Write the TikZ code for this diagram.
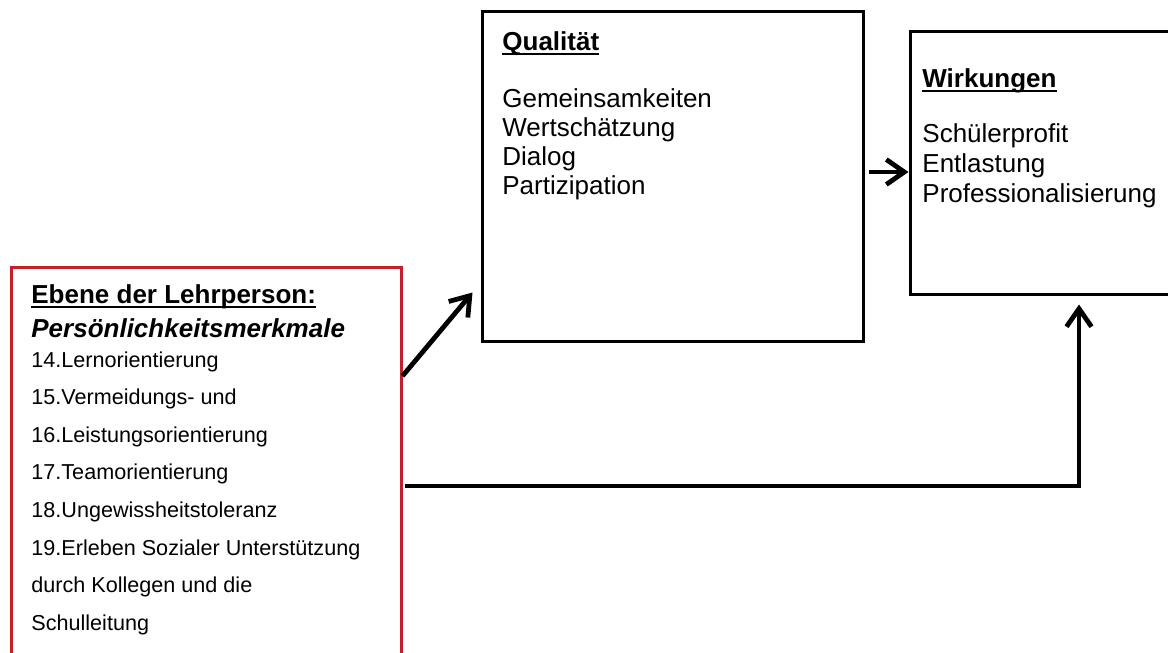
\documentclass[tikz,border=0pt]{standalone}
\usepackage{fontspec}
\setmainfont{Liberation Sans}
\usetikzlibrary{arrows.meta}
\definecolor{rahmenrot}{RGB}{196,32,44}
% Unterstreichung mit fester Tiefe (wie im Textprogramm)
\newcommand\ulhead[1]{\setbox0\hbox{#1}\rlap{\rule[-2.3pt]{\wd0}{0.8pt}}\box0}
\begin{document}
\begin{tikzpicture}[x=0.5pt,y=-0.5pt,
	kasten/.style={draw,line width=1.5pt,inner sep=0pt},
	pfeil/.style={line width=2.4pt,-{Straight Barb[length=9pt,width=12.5pt]}},
	gross/.style={anchor=base west,inner sep=0pt,font=\fontsize{13}{15}\selectfont},
	klein/.style={anchor=base west,inner sep=0pt,font=\fontsize{10.8}{13}\selectfont}]
	\clip (0,0) rectangle (1168,653);
	%Kästen
	\node[kasten,minimum width=190.5pt,minimum height=165pt] (qual) at (672.5,176) {};
	\node[kasten,minimum width=169pt,minimum height=131.5pt] (wirk) at (1079,162.5) {};
	\node[kasten,draw=rahmenrot,minimum width=195pt,minimum height=219pt] (ebene) at (206,486) {};
	%Qualität
	\node[gross] (qtitel) at (502,50) {\ulhead{\textbf{Qualität}}};
	\foreach \t [count=\i from 0] in {Gemeinsamkeiten,Wertschätzung,Dialog,Partizipation}
		\node[gross] (q\i) at (502,107+29*\i) {\t};
	%Wirkungen
	\node[gross] (wtitel) at (922,87) {\ulhead{\textbf{Wirkungen}}};
	\foreach \t [count=\i from 0] in {Schülerprofit,Entlastung,Professionalisierung}
		\node[gross] (w\i) at (922,142+30*\i) {\t};
	%Ebene der Lehrperson
	\node[gross] (etitel) at (31,303) {\ulhead{\textbf{Ebene der Lehrperson:}}};
	\node[gross] (emerk) at (31,337) {\textbf{\textit{Persönlichkeitsmerkmale}}};
	\foreach \t [count=\i from 0] in {14.Lernorientierung,15.Vermeidungs- und,16.Leistungsorientierung,
		17.Teamorientierung,18.Ungewissheitstoleranz,19.Erleben Sozialer Unterstützung,
		durch Kollegen und die,Schulleitung}
		\node[klein] (e\i) at (31,367+37.6*\i) {\t};
	%Pfeile
	\draw[pfeil] ([yshift=55pt]ebene.east) -- ([xshift=-4pt,yshift=25pt]qual.south west);
	\draw[pfeil,shorten <=2pt] ([yshift=2pt]qual.east) -- ([yshift=2pt]qual.east -| wirk.west);
	\draw[pfeil,shorten <=1pt] (ebene.east) -| ([yshift=-4.5pt]wirk.south);
\end{tikzpicture}
\end{document}
